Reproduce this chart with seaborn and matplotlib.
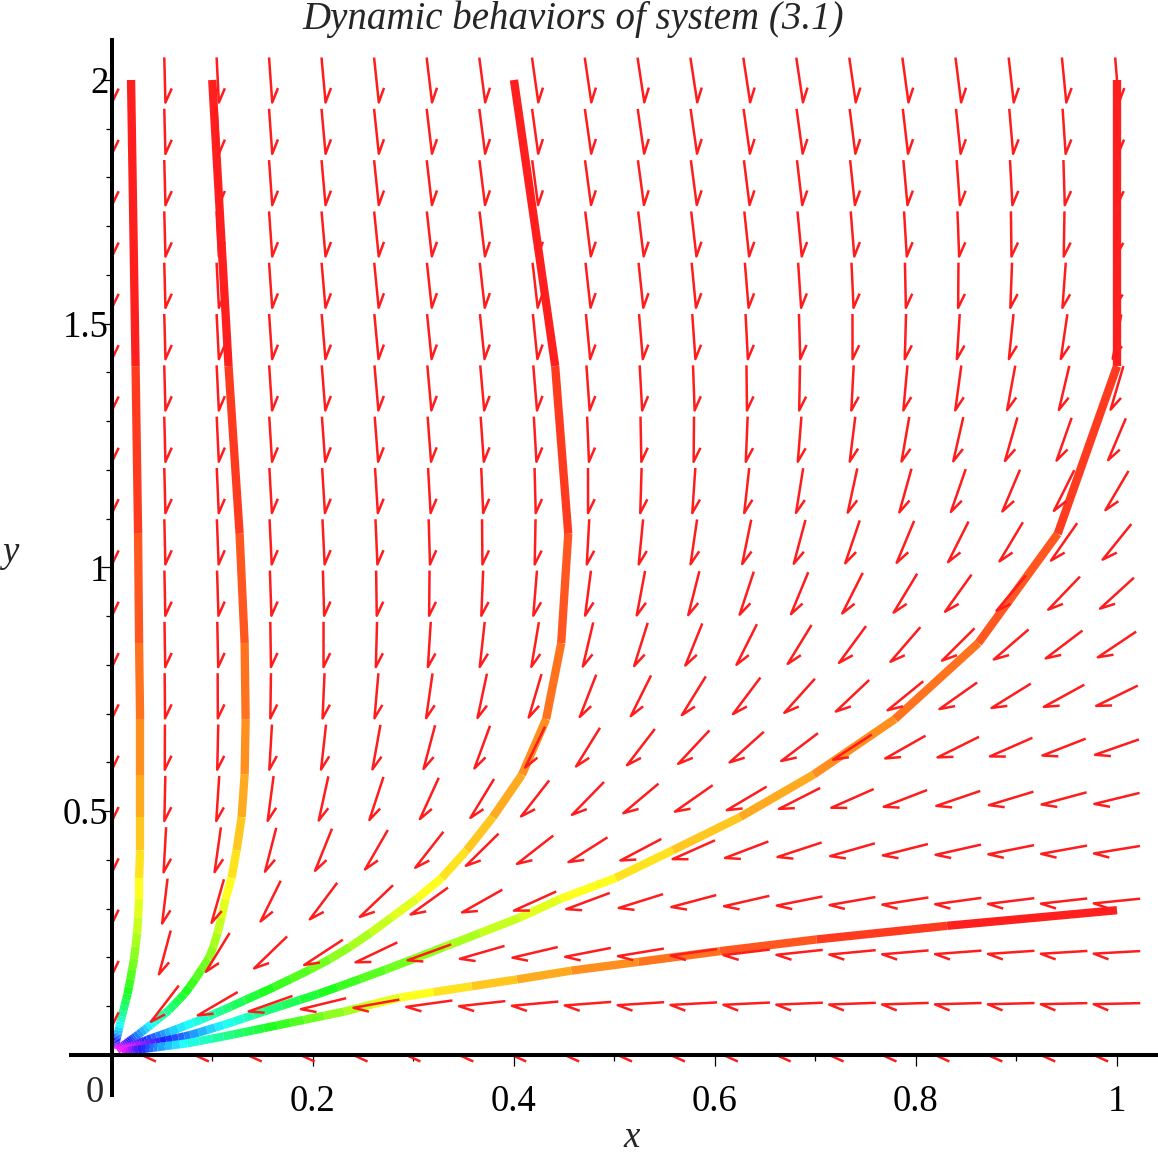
import colorsys
import numpy as np
import pandas as pd
import matplotlib
matplotlib.use('Agg')
import matplotlib.pyplot as plt
import seaborn as sns
from matplotlib.collections import LineCollection

# trajectories (solver steps), hue in degrees at each vertex
traj1_x = [0.019, 0.0235, 0.026, 0.027, 0.028, 0.028, 0.028, 0.028, 0.027, 0.027, 0.026, 0.025,
           0.0235, 0.022, 0.020, 0.0185, 0.0168, 0.0155, 0.0098, 0.006, 0.0035, 0.003]
traj1_y = [2.0, 1.413, 1.069, 0.845, 0.689, 0.575, 0.488, 0.42, 0.363, 0.32, 0.282, 0.25,
           0.222, 0.197, 0.175, 0.156, 0.139, 0.125, 0.079, 0.045, 0.024, 0.013]
traj1_hue = [0, 7.5, 15, 22.5, 30, 37.5, 45, 52.5, 60, 67.5, 75, 82.5,
             90, 97.5, 105, 112.5, 120, 127.5, 161, 203, 262, 305]

traj2_x = [0.0998, 0.116, 0.127, 0.132, 0.133, 0.132, 0.129, 0.124, 0.119, 0.113, 0.109, 0.105,
           0.101, 0.096, 0.089, 0.083, 0.077, 0.072, 0.0567, 0.0385, 0.0235, 0.012, 0.005]
traj2_y = [2.0, 1.413, 1.069, 0.845, 0.689, 0.575, 0.488, 0.42, 0.363, 0.32, 0.282, 0.25,
           0.222, 0.197, 0.175, 0.156, 0.139, 0.125, 0.092, 0.0615, 0.0376, 0.0205, 0.01]
traj2_hue = [0, 7.5, 15, 22.5, 30, 37.5, 45, 52.5, 60, 67.5, 75, 82.5,
             90, 97.5, 105, 112.5, 120, 127.5, 150, 184, 221, 270, 305]

traj3_x = [0.4, 0.441, 0.454, 0.447, 0.432, 0.408, 0.379, 0.353, 0.328, 0.303, 0.278, 0.257,
           0.237, 0.217, 0.197, 0.178, 0.161, 0.146, 0.118, 0.088, 0.058, 0.035, 0.0186, 0.009]
traj3_y = [2.0, 1.413, 1.069, 0.845, 0.689, 0.575, 0.488, 0.42, 0.363, 0.32, 0.282, 0.25,
           0.222, 0.197, 0.175, 0.156, 0.139, 0.125, 0.099, 0.072, 0.048, 0.031, 0.017, 0.01]
traj3_hue = [0, 7.5, 15, 22.5, 30, 37.5, 45, 52.5, 60, 67.5, 75, 82.5,
             90, 97.5, 105, 112.5, 120, 127.5, 145, 172, 199, 236, 285, 305]

traj4_x = [1.0, 1.0, 0.941, 0.862, 0.779, 0.698, 0.625, 0.558, 0.501, 0.446, 0.406, 0.366,
           0.331, 0.300, 0.272, 0.247, 0.224, 0.205, 0.151, 0.111, 0.078, 0.048, 0.025, 0.012]
traj4_y = [2.0, 1.413, 1.069, 0.845, 0.689, 0.575, 0.488, 0.42, 0.363, 0.32, 0.282, 0.25,
           0.222, 0.197, 0.175, 0.156, 0.139, 0.125, 0.089, 0.0615, 0.041, 0.027, 0.017, 0.01]
traj4_hue = [0, 7.5, 15, 22.5, 30, 37.5, 45, 52.5, 60, 67.5, 75, 82.5,
             90, 97.5, 105, 112.5, 120, 127.5, 153, 184, 214, 248, 285, 305]

traj5_x = [1.0, 0.831, 0.701, 0.605, 0.524, 0.457, 0.403, 0.358, 0.320, 0.287, 0.259, 0.231,
           0.191, 0.151, 0.111, 0.075, 0.045, 0.022, 0.01]
traj5_y = [0.297, 0.265, 0.237, 0.213, 0.191, 0.173, 0.155, 0.141, 0.129, 0.118, 0.104, 0.089,
           0.072, 0.055, 0.038, 0.024, 0.016, 0.01, 0.006]
traj5_hue = [0, 7.5, 15, 22.5, 30, 37.5, 45, 52.5, 60, 67.5, 75, 90,
             107, 128, 155, 180, 212, 258, 305]

x_major = [0.2, 0.4, 0.6, 0.8, 1.0]
x_major_labels = ['0.2', '0.4', '0.6', '0.8', '1']
x_minor = [0.1, 0.3, 0.5, 0.7, 0.9]
y_major = [0.5, 1.0, 1.5, 2.0]
y_major_labels = ['0.5', '1', '1.5', '2']
y_minor = [0.1, 0.2, 0.3, 0.4, 0.6, 0.7, 0.8, 0.9, 1.1, 1.2, 1.3, 1.4, 1.6, 1.7, 1.8, 1.9]


# direction field of system (3.1), coefficients estimated from the arrows
def field(x, y):
    u = -x * (0.95 + 1.9 * x - 1.6 * y)
    v = -y * (1.0 + 1.74 * y)
    return u, v


def hue_color(h):
    return colorsys.hsv_to_rgb((h % 360) / 360.0, 0.88, 1.0)


sns.set_style('white')
plt.rcParams['font.family'] = ['Liberation Serif', 'DejaVu Serif']

fig = plt.figure(figsize=(11.58, 11.56), dpi=100)
ax = fig.add_axes([0.0617, 0.0528, 0.9383, 0.9126])
ax.set_xlim(-0.0403, 1.0408)
ax.set_ylim(-0.082, 2.082)

# trajectories: one piece per solver step, long steps split into hue bands
rows = []
pal = {}
k = 0
trajs = [(traj1_x, traj1_y, traj1_hue), (traj2_x, traj2_y, traj2_hue),
         (traj3_x, traj3_y, traj3_hue), (traj4_x, traj4_y, traj4_hue),
         (traj5_x, traj5_y, traj5_hue)]
for xs, ys, hs in trajs:
    for i in range(len(xs) - 1):
        dh = hs[i + 1] - hs[i]
        n = max(1, int(round(dh / 7.5)))
        for j in range(n):
            t0, t1 = j / n, (j + 1) / n
            key = 's%d' % k
            rows.append((key, xs[i] + (xs[i + 1] - xs[i]) * t0, ys[i] + (ys[i + 1] - ys[i]) * t0))
            rows.append((key, xs[i] + (xs[i + 1] - xs[i]) * t1, ys[i] + (ys[i + 1] - ys[i]) * t1))
            pal[key] = hue_color(hs[i] + dh * j / n)
            k += 1
seg_df = pd.DataFrame(rows, columns=['seg', 'x', 'y'])

sns.lineplot(data=seg_df, x='x', y='y', hue='seg', units='seg', estimator=None, sort=False,
             palette=pal, legend=False, linewidth=6, solid_capstyle='butt', ax=ax, zorder=2)

# half-headed arrows on a 20 x 20 grid, same length in cell units
cols = np.linspace(0, 1, 20)
rws = np.linspace(0, 2, 20)
cx = cols[1] - cols[0]
cy = rws[1] - rws[0]
ang = np.deg2rad(-25)
arrows = []
for x in cols:
    for y in rws:
        u, v = field(x, y)
        a, b = u / cx, v / cy
        n = np.hypot(a, b)
        if n == 0:
            continue
        a, b = a / n, b / n
        tail = (x - 0.44 * a * cx, y - 0.44 * b * cy)
        tip = (x + 0.44 * a * cx, y + 0.44 * b * cy)
        bx = -a * np.cos(ang) + b * np.sin(ang)
        by = -a * np.sin(ang) - b * np.cos(ang)
        barb = (tip[0] + 0.3 * bx * cx, tip[1] + 0.3 * by * cy)
        arrows.append([tail, tip, barb])
ax.add_collection(LineCollection(arrows, colors='#ff1c1c', linewidths=1.8, zorder=3))

for s in ['top', 'right']:
    ax.spines[s].set_visible(False)
for s in ['left', 'bottom']:
    ax.spines[s].set_position(('data', 0))
    ax.spines[s].set_linewidth(2.9)
    ax.spines[s].set_color('black')
    ax.spines[s].set_zorder(5)

ax.set_xticks(x_major, x_major_labels)
ax.set_xticks(x_minor, minor=True)
ax.set_yticks(y_major, y_major_labels)
ax.set_yticks(y_minor, minor=True)
ax.tick_params(which='both', bottom=True, left=True, direction='out', color='black', width=0.9)
ax.tick_params(which='major', length=8, labelsize=26.5, labelcolor='black')
ax.tick_params(which='minor', length=4.5)
ax.tick_params(axis='x', which='major', pad=13.5)
ax.tick_params(axis='y', which='major', pad=-5.5)
ax.set_xlabel('')
ax.set_ylabel('')
ax.grid(False)

fig.text(0.0816, 0.0549, '0', ha='center', va='center', fontsize=26.5)
fig.text(0.5458, 0.0155, 'x', ha='center', va='center', fontsize=26.5, style='italic')
fig.text(0.0086, 0.5216, 'y', ha='center', va='center', fontsize=26.5, style='italic')
fig.text(0.4948, 0.983, 'Dynamic behaviors of system (3.1)', ha='center', va='center',
         fontsize=28, style='italic')

fig.savefig('out.png', dpi=100)
